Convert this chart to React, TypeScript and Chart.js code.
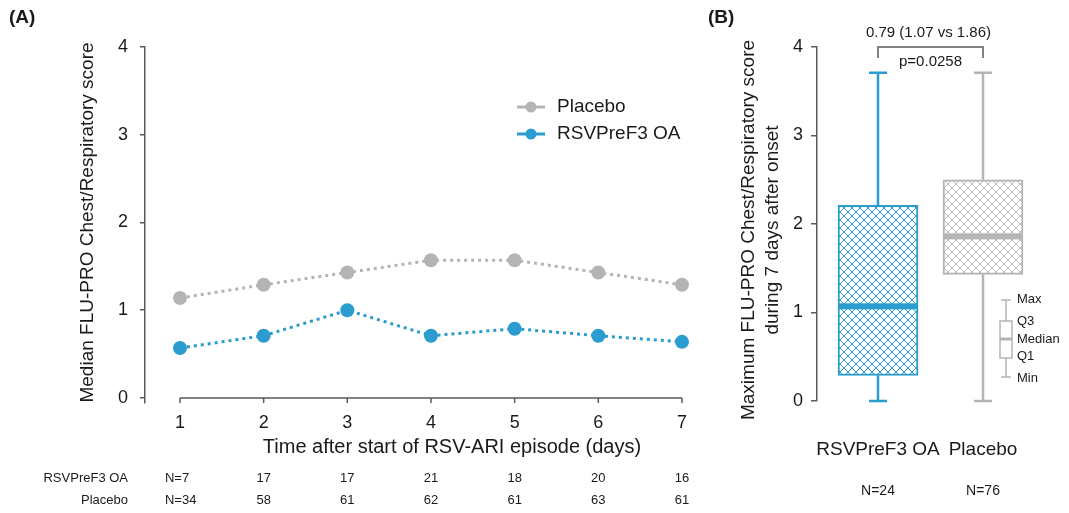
import React, { useEffect, useRef } from "react";
import { Chart, registerables } from "chart.js";

Chart.register(...registerables);

const FONT = "'Liberation Sans', Arial, sans-serif";
const TEXT = "#1a1a1a";
const AXIS = "#5a5a5a";
const BLUE = "#2a9ccf";
const GRAY = "#b4b4b4";

// Panel A data
const days = [1, 2, 3, 4, 5, 6, 7];
const placeboMedian = [1.14, 1.29, 1.43, 1.57, 1.57, 1.43, 1.29];
const rsvMedian = [0.57, 0.71, 1.0, 0.71, 0.79, 0.71, 0.64];
const rsvN = [7, 17, 17, 21, 18, 20, 16];
const placeboN = [34, 58, 61, 62, 61, 63, 61];
const yTicks = [0, 1, 2, 3, 4];

// Panel B data
const groups = ["RSVPreF3 OA", "Placebo"];
const groupN = [24, 76];
const boxMin = [0, 0];
const boxQ1 = [0.29, 1.43];
const boxMedian = [1.07, 1.86];
const boxQ3 = [2.21, 2.5];
const boxMax = [3.71, 3.71];
const groupColors = [BLUE, GRAY];
const diffText = "0.79 (1.07 vs 1.86)";
const pText = "p=0.0258";
const boxLegendLabels = ["Max", "Q3", "Median", "Q1", "Min"];

function hatch(color: string) {
  const c = document.createElement("canvas");
  c.width = 8;
  c.height = 8;
  const g = c.getContext("2d")!;
  g.fillStyle = "#ffffff";
  g.fillRect(0, 0, 8, 8);
  g.strokeStyle = color;
  g.lineWidth = 1;
  g.beginPath();
  g.moveTo(-2, -2); g.lineTo(10, 10);
  g.moveTo(-2, 6); g.lineTo(2, 10);
  g.moveTo(6, -2); g.lineTo(10, 2);
  g.moveTo(10, -2); g.lineTo(-2, 10);
  g.moveTo(-2, 2); g.lineTo(2, -2);
  g.moveTo(6, 10); g.lineTo(10, 6);
  g.stroke();
  return g.createPattern(c, "repeat")!;
}

const panelAPlugin = {
  id: "panelA",
  afterDraw(chart: any) {
    const ctx = chart.ctx as CanvasRenderingContext2D;
    const xs = chart.scales.x;
    const ys = chart.scales.y;
    const y0 = ys.getPixelForValue(0);
    ctx.save();
    ctx.strokeStyle = AXIS;
    ctx.lineWidth = 1.5;
    ctx.beginPath();
    ctx.moveTo(xs.getPixelForValue(days[0]), y0);
    ctx.lineTo(xs.getPixelForValue(days[days.length - 1]), y0);
    days.forEach((d) => {
      const px = xs.getPixelForValue(d);
      ctx.moveTo(px, y0);
      ctx.lineTo(px, y0 + 5);
    });
    ctx.stroke();

    ctx.fillStyle = TEXT;
    ctx.font = `bold 19px ${FONT}`;
    ctx.textAlign = "left";
    ctx.textBaseline = "middle";
    ctx.fillText("(A)", 9, 18);

    ctx.font = `19px ${FONT}`;
    ctx.save();
    ctx.translate(88, (ys.getPixelForValue(4) + y0) / 2);
    ctx.rotate(-Math.PI / 2);
    ctx.textAlign = "center";
    ctx.fillText("Median FLU-PRO Chest/Respiratory score", 0, 0);
    ctx.restore();

    ctx.textAlign = "center";
    ctx.font = `20px ${FONT}`;
    ctx.fillText("Time after start of RSV-ARI episode (days)", 452, 447);

    const legendX = 517;
    const rows = [107, 134];
    chart.data.datasets.forEach((ds: any, i: number) => {
      const ly = rows[i];
      ctx.strokeStyle = ds.borderColor;
      ctx.lineWidth = 3;
      ctx.beginPath();
      ctx.moveTo(legendX, ly);
      ctx.lineTo(legendX + 28, ly);
      ctx.stroke();
      ctx.fillStyle = ds.borderColor;
      ctx.beginPath();
      ctx.arc(legendX + 14, ly, 5.5, 0, Math.PI * 2);
      ctx.fill();
      ctx.fillStyle = TEXT;
      ctx.textAlign = "left";
      ctx.font = `19px ${FONT}`;
      ctx.fillText(ds.label, legendX + 40, ly);
    });

    ctx.font = `13px ${FONT}`;
    ctx.fillStyle = TEXT;
    const tableRows: [string, number[], number][] = [
      ["RSVPreF3 OA", rsvN, 478],
      ["Placebo", placeboN, 500],
    ];
    tableRows.forEach(([name, vals, ty]) => {
      ctx.textAlign = "right";
      ctx.fillText(name, 128, ty);
      vals.forEach((v, i) => {
        const px = xs.getPixelForValue(days[i]);
        if (i === 0) {
          ctx.textAlign = "left";
          ctx.fillText("N=" + v, px - 15, ty);
        } else {
          ctx.textAlign = "center";
          ctx.fillText(String(v), px, ty);
        }
      });
    });
    ctx.restore();
  },
};

const panelBPlugin = {
  id: "panelB",
  afterDatasetsDraw(chart: any) {
    const ctx = chart.ctx as CanvasRenderingContext2D;
    const xs = chart.scales.x;
    const ys = chart.scales.y;
    const meta = chart.getDatasetMeta(0);
    ctx.save();
    groups.forEach((g, i) => {
      const cx = xs.getPixelForValue(i + 1);
      const w = meta.data[i].width;
      ctx.strokeStyle = groupColors[i];
      ctx.lineWidth = 2.5;
      ctx.beginPath();
      ctx.moveTo(cx, ys.getPixelForValue(boxQ3[i]));
      ctx.lineTo(cx, ys.getPixelForValue(boxMax[i]));
      ctx.moveTo(cx - 9, ys.getPixelForValue(boxMax[i]));
      ctx.lineTo(cx + 9, ys.getPixelForValue(boxMax[i]));
      ctx.moveTo(cx, ys.getPixelForValue(boxQ1[i]));
      ctx.lineTo(cx, ys.getPixelForValue(boxMin[i]));
      ctx.moveTo(cx - 9, ys.getPixelForValue(boxMin[i]));
      ctx.lineTo(cx + 9, ys.getPixelForValue(boxMin[i]));
      ctx.stroke();
      ctx.fillStyle = groupColors[i];
      const my = ys.getPixelForValue(boxMedian[i]);
      ctx.fillRect(cx - w / 2, my - 3, w, 6);
    });
    ctx.restore();
  },
  afterDraw(chart: any) {
    const ctx = chart.ctx as CanvasRenderingContext2D;
    const xs = chart.scales.x;
    const ys = chart.scales.y;
    const area = chart.chartArea;
    ctx.save();
    ctx.fillStyle = TEXT;
    ctx.textBaseline = "middle";
    ctx.font = `bold 19px ${FONT}`;
    ctx.textAlign = "left";
    ctx.fillText("(B)", 8, 18);

    ctx.font = `19px ${FONT}`;
    const midY = (ys.getPixelForValue(4) + ys.getPixelForValue(0)) / 2 + 6;
    ctx.save();
    ctx.translate(49, midY);
    ctx.rotate(-Math.PI / 2);
    ctx.textAlign = "center";
    ctx.fillText("Maximum FLU-PRO Chest/Respiratory score", 0, 0);
    ctx.fillText("during 7 days after onset", 0, 24);
    ctx.restore();

    const x1 = xs.getPixelForValue(1);
    const x2 = xs.getPixelForValue(2);
    const top = ys.getPixelForValue(4);
    ctx.strokeStyle = AXIS;
    ctx.lineWidth = 1.5;
    ctx.beginPath();
    ctx.moveTo(x1, top + 11);
    ctx.lineTo(x1, top);
    ctx.lineTo(x2, top);
    ctx.lineTo(x2, top + 11);
    ctx.stroke();
    ctx.textAlign = "center";
    ctx.font = `15px ${FONT}`;
    ctx.fillText(diffText, (x1 + x2) / 2 - 2, top - 14);
    ctx.fillText(pText, (x1 + x2) / 2, top + 15);

    ctx.font = `14px ${FONT}`;
    groups.forEach((g, i) => {
      ctx.fillText("N=" + groupN[i], xs.getPixelForValue(i + 1), 491);
    });

    const lx = area.right - 44;
    const capTop = 300, q3 = 321, med = 339, q1 = 358, capBot = 377;
    ctx.strokeStyle = GRAY;
    ctx.lineWidth = 1.5;
    ctx.beginPath();
    ctx.moveTo(lx, capTop); ctx.lineTo(lx, q3);
    ctx.moveTo(lx - 5, capTop); ctx.lineTo(lx + 5, capTop);
    ctx.moveTo(lx, q1); ctx.lineTo(lx, capBot);
    ctx.moveTo(lx - 5, capBot); ctx.lineTo(lx + 5, capBot);
    ctx.stroke();
    ctx.fillStyle = "#ffffff";
    ctx.fillRect(lx - 6, q3, 12, q1 - q3);
    ctx.strokeRect(lx - 6, q3, 12, q1 - q3);
    ctx.lineWidth = 3;
    ctx.beginPath();
    ctx.moveTo(lx - 6, med); ctx.lineTo(lx + 6, med);
    ctx.stroke();
    ctx.fillStyle = TEXT;
    ctx.font = `13px ${FONT}`;
    ctx.textAlign = "left";
    const ly = [capTop - 1, q3, med, q1 - 2, capBot + 1];
    boxLegendLabels.forEach((t, i) => ctx.fillText(t, lx + 11, ly[i]));
    ctx.restore();
  },
};

export default function App() {
  const aRef = useRef<HTMLCanvasElement>(null);
  const bRef = useRef<HTMLCanvasElement>(null);

  useEffect(() => {
    const tickFont = { family: FONT, size: 18 };
    const chartA = new Chart(aRef.current!, {
      type: "line",
      data: {
        datasets: [
          {
            label: "Placebo",
            data: days.map((d, i) => ({ x: d, y: placeboMedian[i] })),
            borderColor: GRAY,
            backgroundColor: GRAY,
            borderWidth: 3,
            borderDash: [3, 4],
            pointRadius: 7,
            pointBorderWidth: 0,
            pointBackgroundColor: GRAY,
            clip: false,
          } as any,
          {
            label: "RSVPreF3 OA",
            data: days.map((d, i) => ({ x: d, y: rsvMedian[i] })),
            borderColor: BLUE,
            backgroundColor: BLUE,
            borderWidth: 3,
            borderDash: [3, 4],
            pointRadius: 7,
            pointBorderWidth: 0,
            pointBackgroundColor: BLUE,
            clip: false,
          } as any,
        ],
      },
      options: {
        animation: false,
        responsive: false,
        devicePixelRatio: 1,
        layout: { padding: { top: 47, right: 38, left: 0, bottom: 0 } },
        plugins: { legend: { display: false }, tooltip: { enabled: false } },
        scales: {
          x: {
            type: "linear",
            min: 0.582,
            max: 7,
            afterBuildTicks: (s: any) => {
              s.ticks = days.map((v) => ({ value: v }));
            },
            afterFit: (s: any) => {
              s.height = 110;
            },
            grid: { display: false, drawTicks: false },
            border: { display: false },
            ticks: { font: tickFont, color: TEXT, padding: 9, maxRotation: 0 },
          },
          y: {
            min: -0.057,
            max: 4,
            afterBuildTicks: (s: any) => {
              s.ticks = yTicks.map((v) => ({ value: v }));
            },
            afterFit: (s: any) => {
              s.width = 145;
            },
            grid: { drawOnChartArea: false, tickLength: 5, color: AXIS, lineWidth: 1.5 },
            border: { display: true, color: AXIS, width: 1.5 },
            ticks: { font: tickFont, color: TEXT, padding: 12 },
          },
        },
      } as any,
      plugins: [panelAPlugin],
    });

    const chartB = new Chart(bRef.current!, {
      type: "bar",
      data: {
        datasets: [
          {
            label: "box",
            data: groups.map((g, i) => ({ x: i + 1, y: [boxQ1[i], boxQ3[i]] })) as any,
            backgroundColor: [hatch(BLUE), hatch("#bdbdbd")] as any,
            borderColor: groupColors,
            borderWidth: 2,
            borderSkipped: false,
            barThickness: 80,
          } as any,
        ],
      },
      options: {
        animation: false,
        responsive: false,
        devicePixelRatio: 1,
        layout: { padding: { top: 47, right: 19, left: 0, bottom: 0 } },
        plugins: { legend: { display: false }, tooltip: { enabled: false } },
        scales: {
          x: {
            type: "linear",
            offset: false,
            min: 0.419,
            max: 2.638,
            afterBuildTicks: (s: any) => {
              s.ticks = groups.map((g, i) => ({ value: i + 1 }));
            },
            afterFit: (s: any) => {
              s.height = 112;
            },
            grid: { display: false, drawTicks: false, offset: false },
            border: { display: false },
            ticks: {
              font: { family: FONT, size: 19 },
              color: TEXT,
              padding: 37,
              maxRotation: 0,
              autoSkip: false,
              callback: (v: any, i: number) => groups[i],
            },
          },
          y: {
            min: 0,
            max: 4,
            afterBuildTicks: (s: any) => {
              s.ticks = yTicks.map((v) => ({ value: v }));
            },
            afterFit: (s: any) => {
              s.width = 117;
            },
            grid: { drawOnChartArea: false, tickLength: 6, color: AXIS, lineWidth: 1.5 },
            border: { display: true, color: AXIS, width: 1.5 },
            ticks: { font: tickFont, color: TEXT, padding: 8 },
          },
        },
      } as any,
      plugins: [panelBPlugin],
    });

    return () => {
      chartA.destroy();
      chartB.destroy();
    };
  }, []);

  return (
    <div style={{ position: "fixed", left: 0, top: 0, width: 1069, height: 513, background: "#ffffff" }}>
      <canvas ref={aRef} width={720} height={513} style={{ position: "absolute", left: 0, top: 0 }} />
      <canvas ref={bRef} width={369} height={513} style={{ position: "absolute", left: 700, top: 0 }} />
    </div>
  );
}
